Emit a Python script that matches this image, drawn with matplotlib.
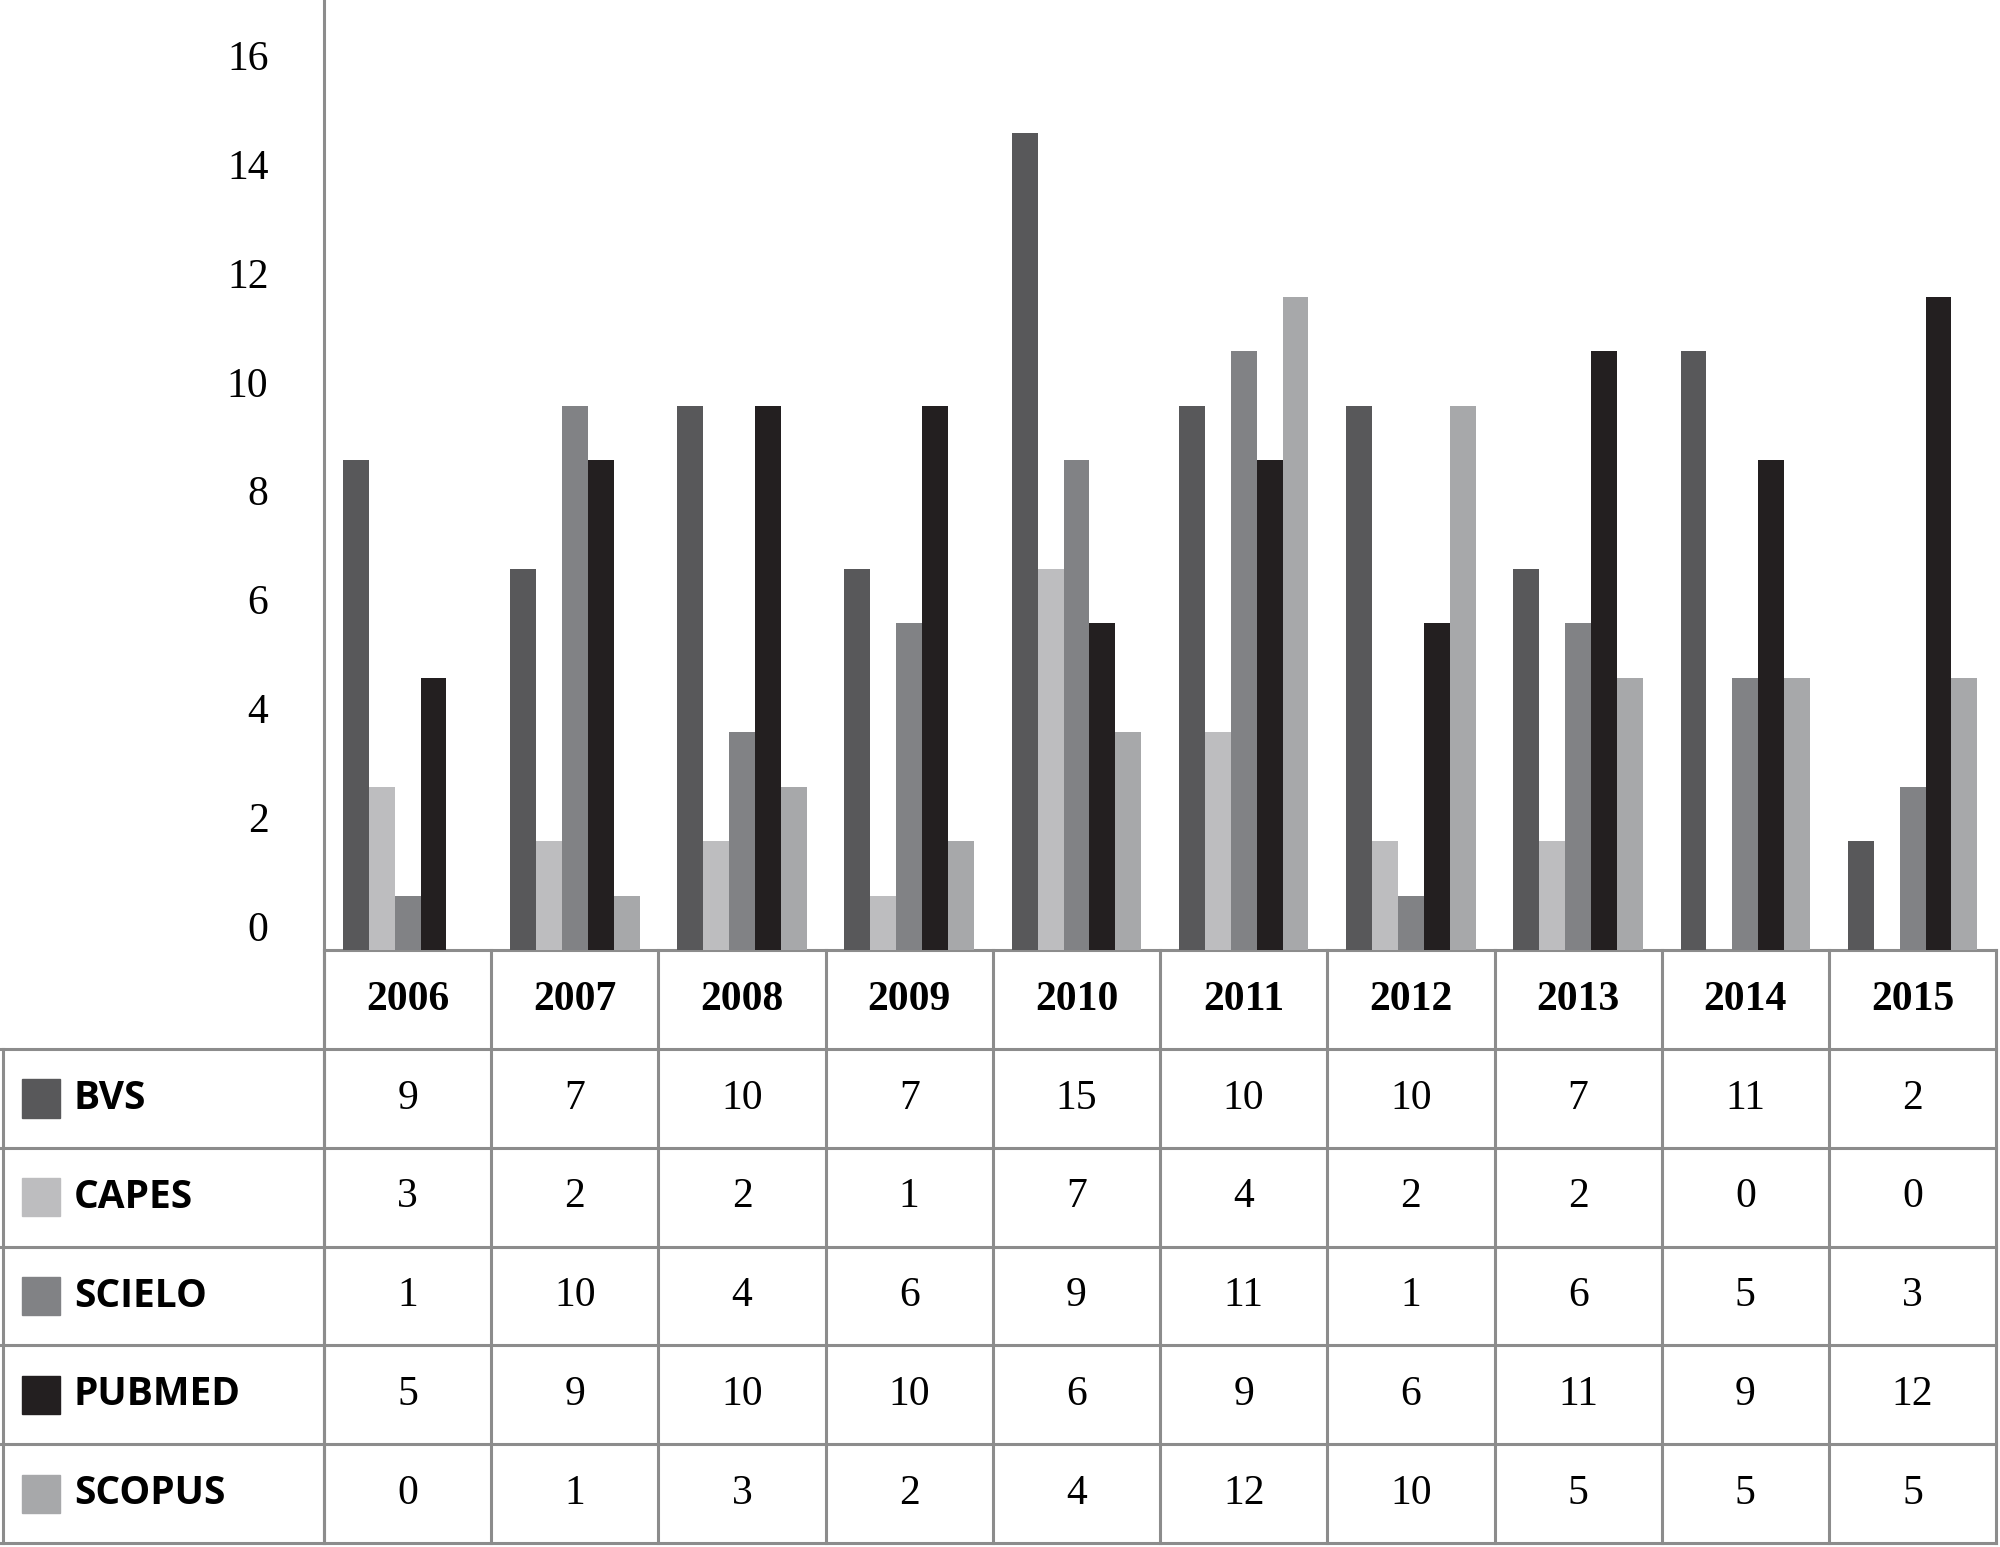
import matplotlib.pyplot as plt
import numpy as np

years = ['2006', '2007', '2008', '2009', '2010', '2011', '2012', '2013', '2014', '2015']
series = ['BVS', 'CAPES', 'SCIELO', 'PUBMED', 'SCOPUS']
bvs = [9, 7, 10, 7, 15, 10, 10, 7, 11, 2]
capes = [3, 2, 2, 1, 7, 4, 2, 2, 0, 0]
scielo = [1, 10, 4, 6, 9, 11, 1, 6, 5, 3]
pubmed = [5, 9, 10, 10, 6, 9, 6, 11, 9, 12]
scopus = [0, 1, 3, 2, 4, 12, 10, 5, 5, 5]
values = [bvs, capes, scielo, pubmed, scopus]
colors = ['#58585a', '#bdbdbf', '#818285', '#231f20', '#a7a8aa']
grid = '#8c8c8c'
W, H = 1568, 1213

fig = plt.figure(figsize=(20, 15.47), dpi=100)

# overlay in reference pixel coordinates for the data table
bg = fig.add_axes([0, 0, 1, 1])
bg.set_xlim(0, W)
bg.set_ylim(H, 0)
bg.axis('off')

x0, xr, ytop, rowh = 254, 1565, 745, 77.5
colw = (xr - x0) / len(years)
lw = 2.2
bg.plot([x0, x0], [0, H - 3], color=grid, lw=lw)
for i in range(len(years) + 1):
    bg.plot([x0 + i * colw] * 2, [ytop, H - 3], color=grid, lw=lw)
bg.plot([x0, xr], [ytop, ytop], color=grid, lw=lw)
for r in range(1, 7):
    y = ytop + r * rowh
    bg.plot([0 if r > 0 else x0, xr], [y, y], color=grid, lw=lw)
bg.plot([2, 2], [ytop + rowh, H - 3], color=grid, lw=lw)

for i, yr in enumerate(years):
    bg.text(x0 + (i + 0.5) * colw, ytop + rowh / 2, yr, ha='center', va='center',
            fontsize=30, fontweight='bold', family='Liberation Serif')
for r, (name, vals, c) in enumerate(zip(series, values, colors)):
    yc = ytop + (r + 1.5) * rowh
    bg.add_patch(plt.Rectangle((17, yc - 15), 30, 30, color=c))
    bg.text(58, yc, name, ha='left', va='center', fontsize=28, fontweight='bold',
            family='Open Sans')
    for i, v in enumerate(vals):
        bg.text(x0 + (i + 0.5) * colw, yc, str(v), ha='center', va='center',
                fontsize=30, family='Liberation Serif')

# bar chart
ax = fig.add_axes([x0 / W, 1 - ytop / H, (xr - x0) / W, ytop / H])
ax.patch.set_alpha(0)
x = np.arange(len(years))
bw = 0.155
for k, (vals, c) in enumerate(zip(values, colors)):
    ax.bar(x + (k - 2) * bw, vals, bw, color=c)
ax.set_xlim(-0.5, len(years) - 0.5)
ax.set_ylim(0, 745 / 42.7)
ax.set_yticks(range(0, 17, 2))
ax.set_yticklabels([str(t) for t in range(0, 17, 2)], fontsize=30, family='Liberation Serif')
ax.tick_params(axis='y', length=0, pad=40)
for lab in ax.get_yticklabels():
    lab.set_verticalalignment('bottom')
ax.set_xticks([])
for s in ax.spines.values():
    s.set_visible(False)

fig.savefig('out.png', dpi=100)
